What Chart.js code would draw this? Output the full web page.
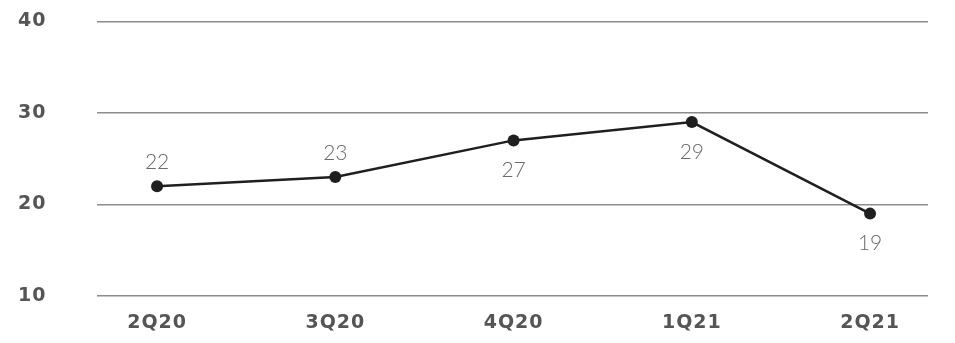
<!DOCTYPE html>
<html>
<head>
<meta charset="utf-8">
<script src="https://cdn.jsdelivr.net/npm/chart.js@4/dist/chart.umd.min.js"></script>
<style>
  html, body { margin: 0; padding: 0; background: #fff; }
  #wrap { width: 955px; height: 343px; position: relative; }
</style>
</head>
<body>
<div id="wrap"><canvas id="c"></canvas></div>
<script>
// Quarterly values
const quarters = ['2Q20', '3Q20', '4Q20', '1Q21', '2Q21'];
const values = [22, 23, 27, 29, 19];
// Where each value label sits relative to its point
const labelSide = ['above', 'above', 'below', 'below', 'below'];
const yTicks = [10, 20, 30, 40];

const tickFont = { family: "'DejaVu Sans', sans-serif", size: 19, weight: 'bold' };

// Slightly wider tracking for the axis labels
const tracking = {
  id: 'tracking',
  beforeUpdate(chart) { chart.ctx.letterSpacing = '1px'; },
  beforeDraw(chart) { chart.ctx.letterSpacing = '1px'; }
};

// Draws the number next to each point
const valueLabels = {
  id: 'valueLabels',
  afterDatasetsDraw(chart) {
    const ctx = chart.ctx;
    const meta = chart.getDatasetMeta(0);
    ctx.save();
    ctx.letterSpacing = '0px';
    ctx.font = "300 21px Lato, 'Open Sans', sans-serif";
    ctx.fillStyle = '#6a6a6a';
    ctx.textAlign = 'center';
    ctx.textBaseline = 'middle';
    meta.data.forEach((pt, i) => {
      const dy = labelSide[i] === 'above' ? -24 : 30;
      ctx.fillText(String(values[i]), pt.x, pt.y + dy);
    });
    ctx.restore();
  }
};

new Chart(document.getElementById('c'), {
  type: 'line',
  data: {
    datasets: [{
      data: values.map((v, i) => ({ x: i, y: v })),
      borderColor: '#1f1f1f',
      borderWidth: 2.5,
      pointRadius: 6,
      pointHoverRadius: 6,
      pointBackgroundColor: '#1f1f1f',
      pointBorderWidth: 0,
      tension: 0
    }]
  },
  options: {
    responsive: true,
    maintainAspectRatio: false,
    animation: false,
    layout: { padding: { left: 18, right: 27, top: 21, bottom: 0 } },
    plugins: { legend: { display: false }, tooltip: { enabled: false } },
    scales: {
      x: {
        type: 'linear',
        min: -0.337,
        max: 4.325,
        afterBuildTicks(scale) {
          scale.ticks = quarters.map((q, i) => ({ value: i }));
        },
        afterFit(scale) { scale.height = 47; },
        grid: { display: false, drawTicks: false },
        border: { display: false },
        ticks: {
          callback: (v) => quarters[v],
          color: '#555',
          font: tickFont,
          padding: 16,
          maxRotation: 0,
          autoSkip: false
        }
      },
      y: {
        min: 10,
        max: 40,
        afterBuildTicks(scale) {
          scale.ticks = yTicks.map(v => ({ value: v }));
        },
        afterFit(scale) { scale.width = 79; },
        grid: { color: '#8c8c8c', lineWidth: 1.5, drawTicks: false },
        border: { display: false },
        ticks: {
          color: '#555',
          font: tickFont,
          crossAlign: 'far',
          padding: 10
        }
      }
    }
  },
  plugins: [tracking, valueLabels]
});
</script>
</body>
</html>
